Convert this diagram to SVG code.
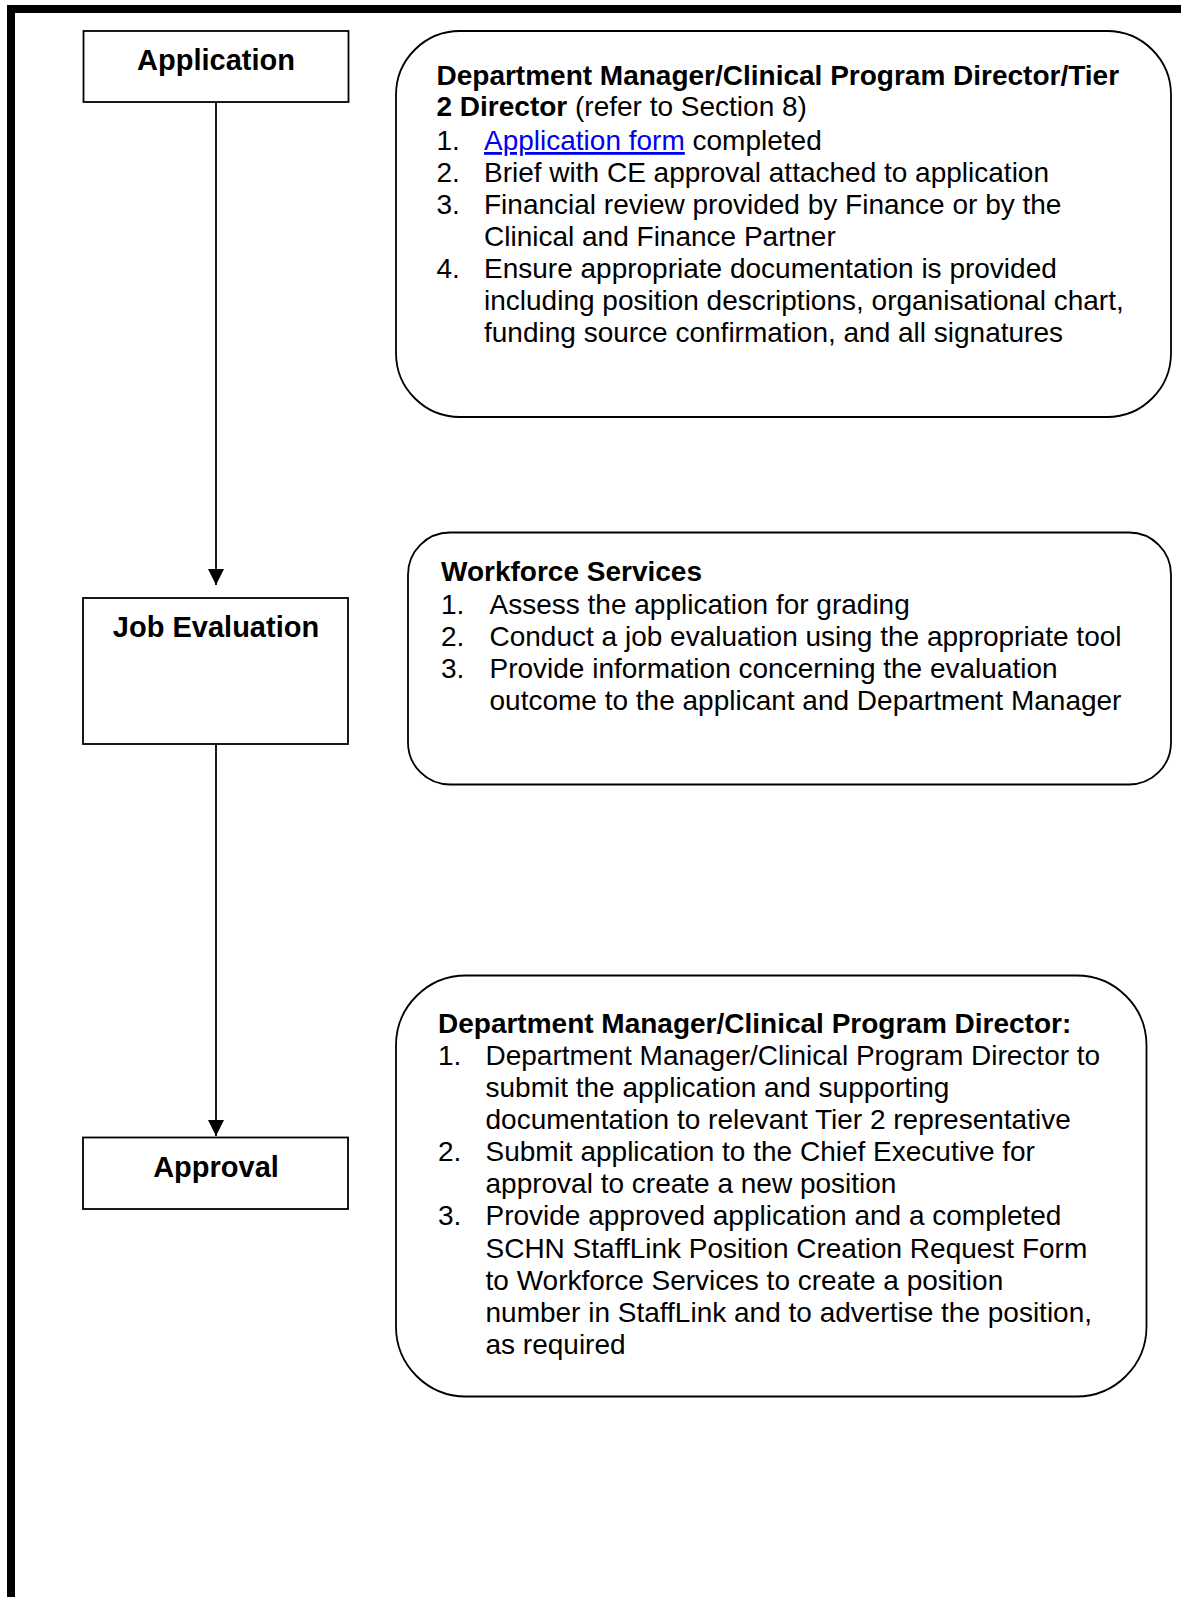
<svg xmlns="http://www.w3.org/2000/svg" width="1181" height="1597" viewBox="0 0 1181 1597">
<style>
text{font-family:"Liberation Sans",Arial,sans-serif;fill:#000}
.t{font-size:29px;font-weight:bold;text-anchor:middle}
.h{font-size:28px;font-weight:bold}
.b{font-size:28px}
.box{fill:#fff;stroke:#000;stroke-width:1.8}
.link{fill:#0000ee;text-decoration:underline}
</style>
<defs>
<marker id="arr" markerWidth="17" markerHeight="17" refX="16" refY="8" orient="auto" markerUnits="userSpaceOnUse">
<path d="M0,0 L16,8 L0,16 Z" fill="#000"/>
</marker>
</defs>
<rect width="1181" height="1597" fill="#fff"/>
<path d="M11,1597 V9 H1181" fill="none" stroke="#000" stroke-width="8"/>
<g id="connectors" stroke="#000" stroke-width="1.8" fill="none">
<line x1="216" y1="102" x2="216" y2="585" marker-end="url(#arr)"/>
<line x1="216" y1="744" x2="216" y2="1136" marker-end="url(#arr)"/>
</g>
<g id="n-application">
<rect class="box" x="83.5" y="31" width="265" height="71"/>
<text class="t" x="216" y="70">Application</text>
</g>
<g id="n-jobeval">
<rect class="box" x="83" y="598" width="265" height="146"/>
<text class="t" x="216" y="637">Job Evaluation</text>
</g>
<g id="n-approval">
<rect class="box" x="83" y="1137.5" width="265" height="71.5"/>
<text class="t" x="216" y="1177">Approval</text>
</g>
<g id="n-dept1">
<rect class="box" x="396" y="31" width="775" height="386" rx="64" ry="64"/>
<text class="h" x="436.5" y="85">Department Manager/Clinical Program Director/Tier</text>
<text x="436.5" y="116"><tspan class="h">2 Director</tspan><tspan class="b"> (refer to Section 8)</tspan></text>
<text class="b" x="436.5" y="150">1.</text><text class="b" x="484" y="150"><tspan class="link">Application form</tspan> completed</text>
<text class="b" x="436.5" y="182">2.</text><text class="b" x="484" y="182">Brief with CE approval attached to application</text>
<text class="b" x="436.5" y="214">3.</text><text class="b" x="484" y="214">Financial review provided by Finance or by the</text>
<text class="b" x="484" y="246">Clinical and Finance Partner</text>
<text class="b" x="436.5" y="278">4.</text><text class="b" x="484" y="278">Ensure appropriate documentation is provided</text>
<text class="b" x="484" y="310">including position descriptions, organisational chart,</text>
<text class="b" x="484" y="342">funding source confirmation, and all signatures</text>
</g>
<g id="n-workforce">
<rect class="box" x="408" y="532.5" width="763" height="252" rx="42" ry="42"/>
<text class="h" x="441" y="581">Workforce Services</text>
<text class="b" x="441" y="614">1.</text><text class="b" x="489.5" y="614">Assess the application for grading</text>
<text class="b" x="441" y="646">2.</text><text class="b" x="489.5" y="646">Conduct a job evaluation using the appropriate tool</text>
<text class="b" x="441" y="678">3.</text><text class="b" x="489.5" y="678">Provide information concerning the evaluation</text>
<text class="b" x="489.5" y="710">outcome to the applicant and Department Manager</text>
</g>
<g id="n-dept2">
<rect class="box" x="396" y="975.5" width="750.5" height="421" rx="70" ry="70"/>
<text class="h" x="438" y="1033">Department Manager/Clinical Program Director:</text>
<text class="b" x="438" y="1065">1.</text><text class="b" x="485.5" y="1065">Department Manager/Clinical Program Director to</text>
<text class="b" x="485.5" y="1097">submit the application and supporting</text>
<text class="b" x="485.5" y="1129">documentation to relevant Tier 2 representative</text>
<text class="b" x="438" y="1161">2.</text><text class="b" x="485.5" y="1161">Submit application to the Chief Executive for</text>
<text class="b" x="485.5" y="1193">approval to create a new position</text>
<text class="b" x="438" y="1225">3.</text><text class="b" x="485.5" y="1225">Provide approved application and a completed</text>
<text class="b" x="485.5" y="1258">SCHN StaffLink Position Creation Request Form</text>
<text class="b" x="485.5" y="1290">to Workforce Services to create a position</text>
<text class="b" x="485.5" y="1322">number in StaffLink and to advertise the position,</text>
<text class="b" x="485.5" y="1354">as required</text>
</g>
</svg>
